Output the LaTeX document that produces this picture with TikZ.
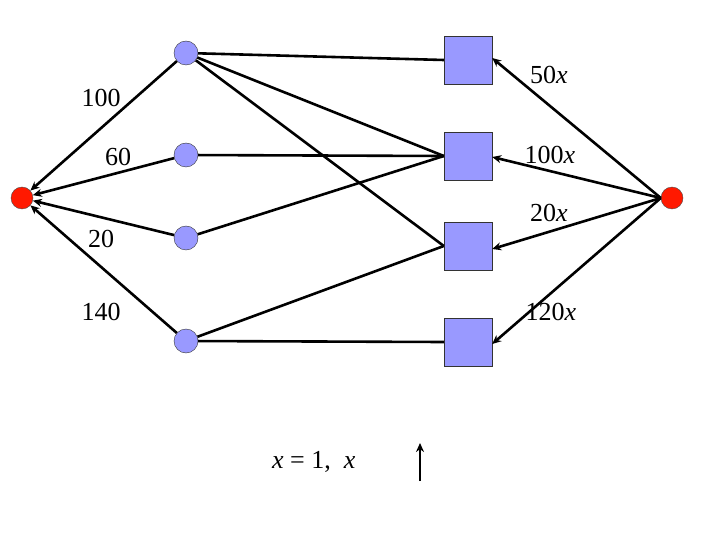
\documentclass[tikz,border=0pt]{standalone}
\usepackage{fontspec}
\setmainfont{Liberation Serif}
\usetikzlibrary{arrows.meta}
\begin{document}
\begin{tikzpicture}[x=1pt,y=-1pt,
  red/.style={circle,draw=black!70,fill=red!80!orange,minimum size=22pt,inner sep=0pt},
  blue/.style={circle,draw=black!80,fill=blue!40,minimum size=24pt,inner sep=0pt},
  sq/.style={rectangle,draw=black!80,fill=blue!40,minimum size=48pt,inner sep=0pt},
  e/.style={line width=2.6pt},
  a/.style={line width=2.6pt,-{Stealth[length=9pt,width=8pt]}},
  lab/.style={font=\fontsize{26pt}{28pt}\selectfont,inner sep=0pt}]
\useasboundingbox (0,0) rectangle (720,540);
\node[red] (L) at (22,198) {};
\node[red] (R) at (672,198) {};
\node[blue] (c1) at (186,53) {};
\node[blue] (c2) at (186,155) {};
\node[blue] (c3) at (186,238) {};
\node[blue] (c4) at (186,341) {};
\node[sq] (s1) at (468,60) {};
\node[sq] (s2) at (468,156) {};
\node[sq] (s3) at (468,246) {};
\node[sq] (s4) at (468,342) {};
\draw[e] (c1) -- (s1.west);
\draw[e] (c1) -- (s2.west);
\draw[e] (c1) -- (s3.west);
\draw[e] (c2) -- (s2.west);
\draw[e] (c3) -- (s2.west);
\draw[e] (c4) -- (s3.west);
\draw[e] (c4) -- (s4.west);
\foreach \c in {c1,c2,c3,c4} \draw[a] (\c) -- (L);
\draw[a] (R.west) -- ([yshift=2pt]s1.east);
\draw[a] (R.west) -- ([yshift=-1pt]s2.east);
\draw[a] (R.west) -- ([yshift=-3pt]s3.east);
\draw[a] (R.west) -- ([yshift=-2pt]s4.east);
\node[lab] (l1) at (101,98) {100};
\node[lab] (l2) at (118,157) {60};
\node[lab] (l3) at (101,239) {20};
\node[lab] (l4) at (101,312) {140};
\node[lab] (r1) at (549,75) {50\textit{x}};
\node[lab] (r2) at (550,155) {100\textit{x}};
\node[lab] (r3) at (549,213) {20\textit{x}};
\node[lab] (r4) at (551,312) {120\textit{x}};
\node[lab,anchor=west] (eq) at (272,462) {\textit{x} = 1,\ \ \textit{x}};
\coordinate (up1) at (420,481);
\coordinate (up2) at (420,443);
\draw[a] (up1) -- (up2);
\end{tikzpicture}
\end{document}
